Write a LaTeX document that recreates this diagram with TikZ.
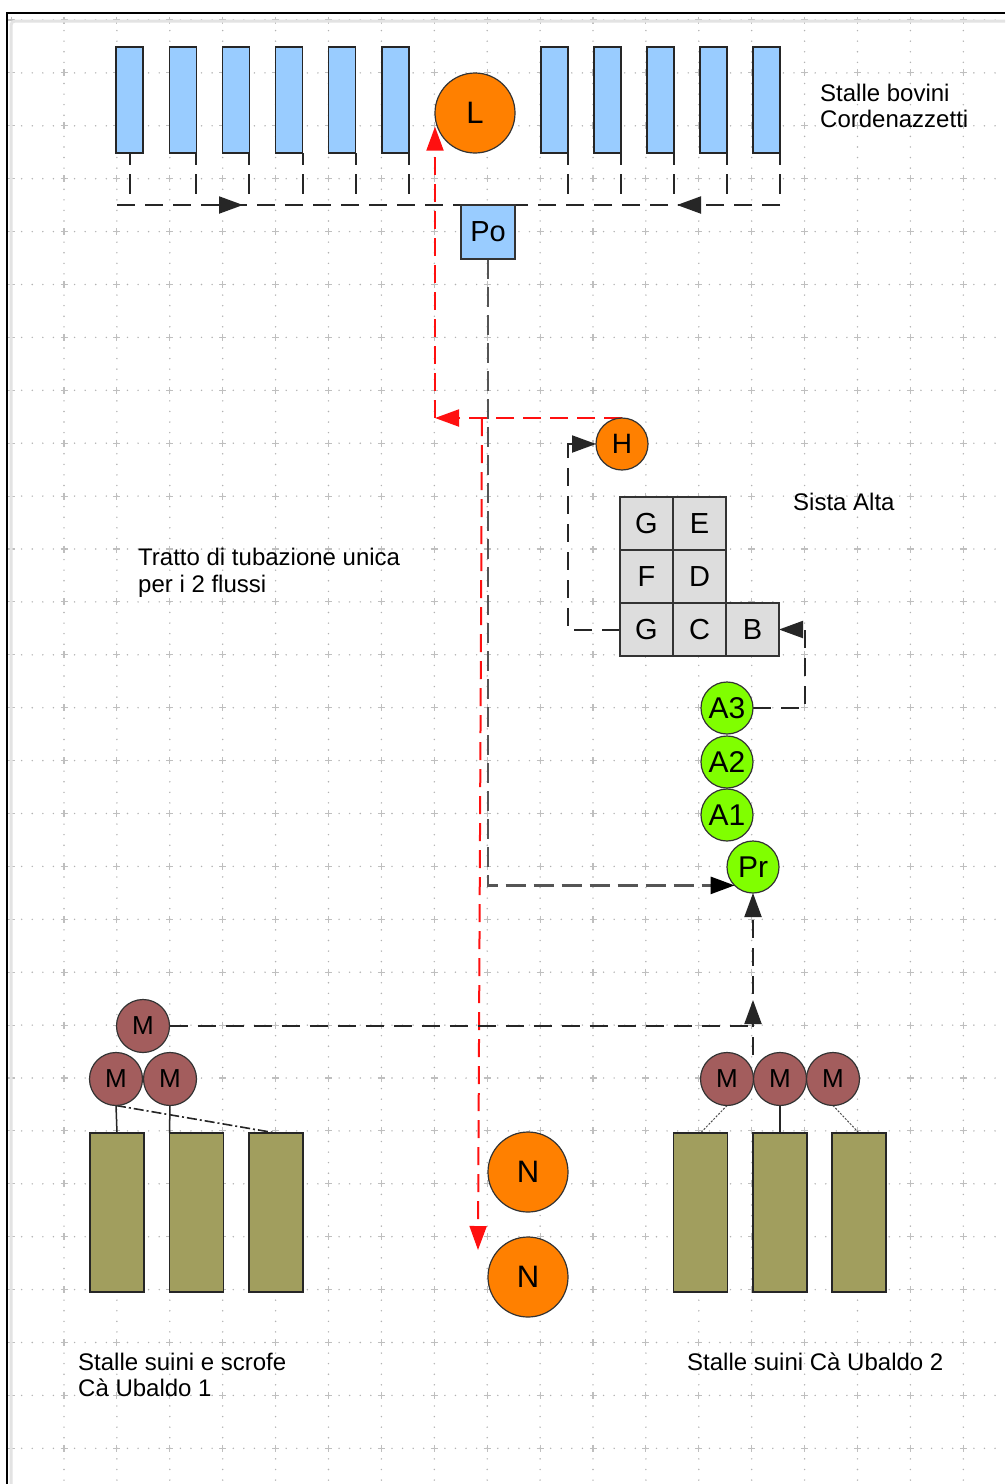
\documentclass[tikz,border=0pt]{standalone}
\usepackage{fontspec}
\setmainfont{Liberation Sans}
\usetikzlibrary{arrows.meta,decorations.markings,calc}
\definecolor{bovblue}{HTML}{99CCFF}
\definecolor{orangeL}{HTML}{FF8000}
\definecolor{greenA}{HTML}{80FF00}
\definecolor{maroonM}{HTML}{A35D5D}
\definecolor{oliveS}{HTML}{A19E5E}
\definecolor{cellgray}{HTML}{DDDDDD}
\definecolor{redline}{HTML}{FF1010}
\definecolor{grayline}{HTML}{555555}
\pgfdeclarelayer{bg}
\pgfdeclarelayer{conn}
\pgfsetlayers{bg,conn,main}
\tikzset{
  griddot/.style={gray!60, line width=1.6pt, line cap=round, dash pattern=on 0pt off 10.58pt},
  gridcross/.style={gray!50, line width=1.1pt},
  bovbar/.style={draw=black!85, fill=bovblue, line width=1.3pt, minimum width=27pt, minimum height=106pt, inner sep=0pt, outer sep=0pt},
  suibar/.style={draw=black!85, fill=oliveS, line width=1.3pt, minimum width=54pt, minimum height=159pt, inner sep=0pt, outer sep=0pt},
  circ/.style={circle, draw=black!80, line width=1.2pt, inner sep=0pt, outer sep=0pt},
  bigorange/.style={circ, fill=orangeL, minimum size=80pt, font=\fontsize{31}{31}\selectfont},
  smallorange/.style={circ, fill=orangeL, minimum size=52pt, font=\fontsize{28}{28}\selectfont},
  greencirc/.style={circ, fill=greenA, minimum size=52pt, font=\fontsize{30}{30}\selectfont},
  mcirc/.style={circ, fill=maroonM, minimum size=53pt, font=\fontsize{26}{26}\selectfont},
  cellbox/.style={draw=black!80, fill=cellgray, line width=1.5pt, minimum size=53pt, inner sep=0pt, outer sep=0pt, font=\fontsize{29}{29}\selectfont},
  pobox/.style={draw=black!80, fill=bovblue, line width=1.3pt, minimum size=54pt, inner sep=0pt, outer sep=0pt, font=\fontsize{29}{29}\selectfont},
  lbl/.style={inner sep=0pt, anchor=base west, font=\fontsize{24}{26}\selectfont},
  blackdash/.style={black!85, line width=2pt, dash pattern=on 18pt off 10pt},
  tickdash/.style={black!85, line width=2pt, dash pattern=on 12pt off 9pt on 20pt off 20pt},
  reddash/.style={redline, line width=2pt, dash pattern=on 18pt off 9pt},
  graydash/.style={grayline, line width=2.6pt, dash pattern=on 20pt off 8pt},
  arr/.style={-{Triangle[length=24pt,width=17pt]}},
  blackarr/.style={-{Triangle[length=24pt,width=17pt,color=black]}},
  midarr/.style={postaction={decorate}, decoration={markings, mark=at position #1 with {\arrow{Triangle[length=24pt,width=17pt]}}}},
  dotcon/.style={black!70, line width=1pt, dash pattern=on 2pt off 1.5pt},
  solidcon/.style={black!85, line width=1.5pt},
  dashdotcon/.style={black!85, line width=1.6pt, dash pattern=on 10pt off 3pt on 2pt off 3pt}
}
\begin{document}
\begin{tikzpicture}[x=1pt,y=-1pt]
\useasboundingbox (0,0) rectangle (1005,1484);
\begin{pgfonlayer}{bg}
\fill[white] (0,0) rectangle (1005,1484);
% grid
\foreach \i in {-1,...,18} {
  \draw[griddot] ({64+52.9*\i},20) -- ({64+52.9*\i},1484);
}
\foreach \j in {0,...,27} {
  \draw[griddot] (11.1,{20+52.9*\j}) -- (1005,{20+52.9*\j});
}
\foreach \i in {-1,...,18} {
  \foreach \j in {0,...,27} {
    \draw[gridcross] ({64+52.9*\i-3.5},{20+52.9*\j}) -- ++(7,0) ({64+52.9*\i},{20+52.9*\j-3.5}) -- ++(0,7);
  }
}
% frame
\draw[gray!22, line width=3pt, rounded corners=4pt] (11,1484) -- (11,21) -- (1005,21);
\draw[black, line width=1.6pt] (7,1484) -- (7,13) -- (1005,13);
\end{pgfonlayer}

% top bars
\node[bovbar] (b1) at (129.5,100) {};
\node[bovbar] (b2) at (182.7,100) {};
\node[bovbar] (b3) at (235.9,100) {};
\node[bovbar] (b4) at (289.1,100) {};
\node[bovbar] (b5) at (342.3,100) {};
\node[bovbar] (b6) at (395.5,100) {};
\node[bovbar] (b7) at (554.5,100) {};
\node[bovbar] (b8) at (607.5,100) {};
\node[bovbar] (b9) at (660.5,100) {};
\node[bovbar] (b10) at (713.5,100) {};
\node[bovbar] (b11) at (766.5,100) {};

\node[bigorange] (L) at (475,113) {L};
\node[pobox] (Po) at (488,232) {Po};

\node[smallorange] (H) at (622,444) {H};

\node[cellbox] (cG1) at (646.5,523.5) {G};
\node[cellbox] (cE) at (699.5,523.5) {E};
\node[cellbox] (cF) at (646.5,576.5) {F};
\node[cellbox] (cD) at (699.5,576.5) {D};
\node[cellbox] (cG2) at (646.5,629.5) {G};
\node[cellbox] (cC) at (699.5,629.5) {C};
\node[cellbox] (cB) at (752.5,629.5) {B};

\node[greencirc] (A3) at (727,708) {A3};
\node[greencirc] (A2) at (727,762) {A2};
\node[greencirc] (A1) at (727,815) {A1};
\node[greencirc] (Pr) at (753,867) {Pr};

\node[mcirc] (Mt) at (143,1026) {M};
\node[mcirc] (Ml1) at (116,1079) {M};
\node[mcirc] (Ml2) at (170,1079) {M};
\node[mcirc] (Mr1) at (727,1079) {M};
\node[mcirc] (Mr2) at (780,1079) {M};
\node[mcirc] (Mr3) at (833,1079) {M};

\node[suibar] (lb1) at (117,1212.5) {};
\node[suibar] (lb2) at (196.5,1212.5) {};
\node[suibar] (lb3) at (276,1212.5) {};
\node[suibar] (rb1) at (700.5,1212.5) {};
\node[suibar] (rb2) at (780,1212.5) {};
\node[suibar] (rb3) at (859,1212.5) {};

\node[bigorange] (N1) at (528,1172) {N};
\node[bigorange] (N2) at (528,1277) {N};

% texts
\node[lbl] (tBov1) at (820,101) {Stalle bovini};
\node[lbl] (tBov2) at (820,127) {Cordenazzetti};
\node[lbl] (tSista) at (793,510) {Sista Alta};
\node[lbl] (tTr1) at (138,565) {Tratto di tubazione unica};
\node[lbl] (tTr2) at (138,592) {per i 2 flussi};
\node[lbl] (tSu1) at (78,1370) {Stalle suini e scrofe};
\node[lbl] (tSu2) at (78,1396) {Cà Ubaldo 1};
\node[lbl] (tSu3) at (687,1370) {Stalle suini Cà Ubaldo 2};

\begin{pgfonlayer}{conn}
% collector line of the cattle stalls
\coordinate (hlL) at (117,205);
\coordinate (hlR) at (780,205);
\draw[tickdash] (b1.south) -- (b1.south |- hlL);
\foreach \b in {b2,b3,b4,b5,b6,b7,b8,b9,b10,b11} {
  \draw[tickdash] (\b.south east) -- (\b.south east |- hlL);
}
\draw[blackdash, midarr=126pt] (hlL) -- (Po.north west);
\draw[blackdash, midarr=103pt] (hlR) -- (Po.north east);
% gray line Po -> Pr
\draw[graydash, blackarr] (Po.south) |- (Pr.225);
% red lines
\coordinate (redc) at (435,418);
\coordinate (redb) at (482,418);
\coordinate (Nin) at (478,1250);
\draw[reddash, arr] (H.north) -- (redc);
\draw[reddash, arr] (redc) -- (redc |- L.200);
\draw[reddash, arr] (redb) -- (Nin);
% G -> H
\draw[blackdash, arr] (cG2.west) -- ++(-52,0) |- (H.west);
% A3 -> B
\draw[blackdash, arr] (A3.east) -- ++(52,0) |- (cB.east);
% M -> Pr
\draw[blackdash, arr] (Mt.east) -| (Pr.south);
\coordinate (mrc) at (753,1055);
\coordinate (mtip) at (753,1000);
\draw[blackdash, arr] (mrc) -- (mtip);
% M to stalls
\draw[solidcon] (Ml1.south) -- (lb1.north);
\draw[solidcon] (Ml2.south) -- (lb2.north west);
\draw[dashdotcon] (Ml1.south) -- (lb3.north);
\draw[dotcon] (Mr1.south) -- (rb1.north);
\draw[solidcon] (Mr2.south) -- (rb2.north);
\draw[dotcon] (Mr3.south) -- (rb3.north);
\end{pgfonlayer}
\end{tikzpicture}
\end{document}
